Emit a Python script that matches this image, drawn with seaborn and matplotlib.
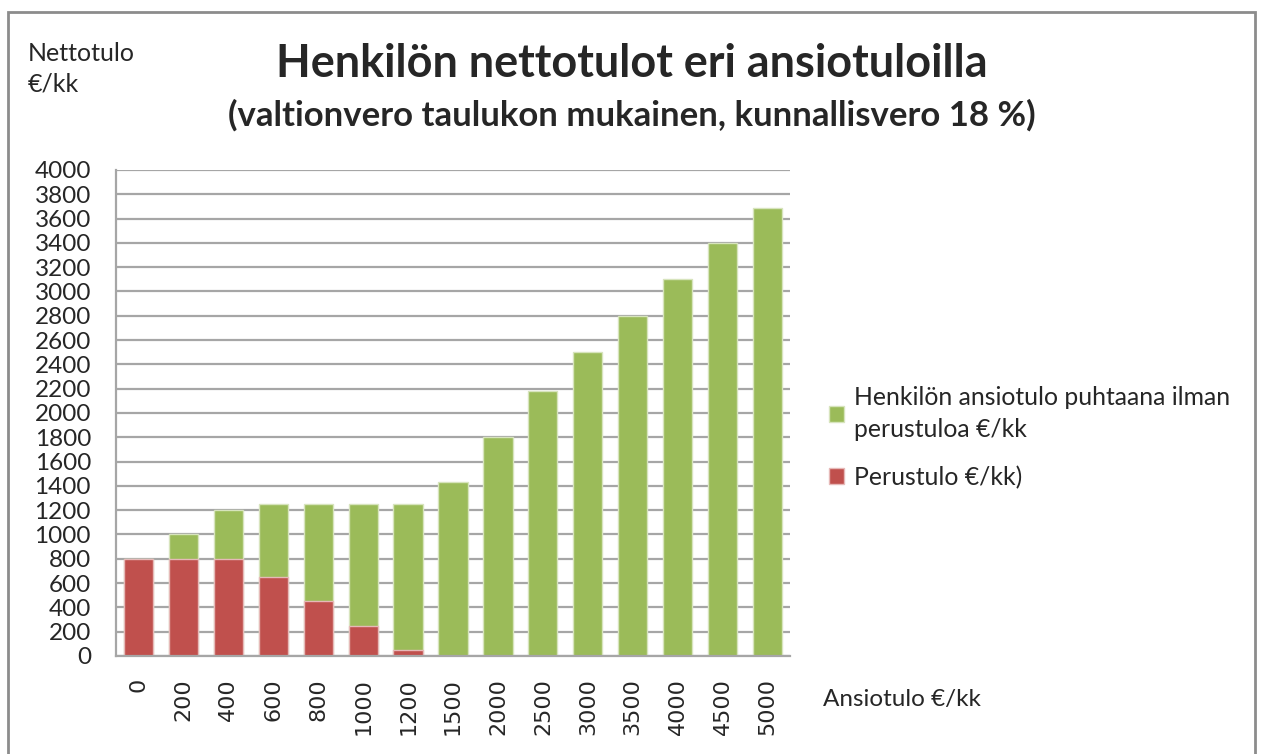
import matplotlib.pyplot as plt
import pandas as pd
import seaborn as sns
from matplotlib.patches import Rectangle

# data
ansiotulo = ["0", "200", "400", "600", "800", "1000", "1200", "1500",
             "2000", "2500", "3000", "3500", "4000", "4500", "5000"]
perustulo = [800, 800, 800, 650, 450, 250, 50, 0, 0, 0, 0, 0, 0, 0, 0]
ansio_puhtaana = [0, 200, 400, 600, 800, 1000, 1200, 1430,
                  1800, 2180, 2500, 2800, 3100, 3400, 3690]
y_ticks = list(range(0, 4001, 200))

df = pd.DataFrame({"ansiotulo": ansiotulo,
                   "perustulo": perustulo,
                   "ansio": ansio_puhtaana})
df["yhteensa"] = df["perustulo"] + df["ansio"]

sns.set_style("white")
plt.rcParams["font.family"] = ["Lato", "DejaVu Sans"]

GREEN = "#9BBB59"
RED = "#C0504D"

fig = plt.figure(figsize=(12.61, 7.54), dpi=100)
ax = fig.add_axes([0.092, 0.13, 0.5345, 0.6446])

# pinottu pylväs: ensin kokonaiskorkeus vihreänä, sitten perustulo päälle
sns.barplot(data=df, x="ansiotulo", y="yhteensa", order=ansiotulo, color=GREEN,
            width=0.65, saturation=1, edgecolor="#D7E4BD", linewidth=1,
            label="Henkilön ansiotulo puhtaana ilman\nperustuloa €/kk", ax=ax)
sns.barplot(data=df, x="ansiotulo", y="perustulo", order=ansiotulo, color=RED,
            width=0.65, saturation=1, edgecolor="#E6B9B8", linewidth=1,
            label="Perustulo €/kk)", ax=ax)

ax.set_ylim(0, 4000)
ax.set_xlim(-0.5, len(ansiotulo) - 0.5)
ax.set_yticks(y_ticks)
ax.set_yticklabels([str(v) for v in y_ticks], fontsize=17.5)
ax.set_xticks(range(len(ansiotulo)))
ax.set_xticklabels(ansiotulo, rotation=90, fontsize=16, family="DejaVu Sans",
                   va="top", ha="center")
ax.tick_params(axis="both", length=0)
ax.tick_params(axis="y", pad=18)
ax.tick_params(axis="x", pad=16)
ax.set_xlabel("")
ax.set_ylabel("")
ax.yaxis.grid(True, color="#A6A6A6", linewidth=1.6)
ax.set_axisbelow(True)
for side in ["top", "right"]:
    ax.spines[side].set_visible(False)
for side in ["left", "bottom"]:
    ax.spines[side].set_color("#A6A6A6")
    ax.spines[side].set_linewidth(1.6)

leg = ax.legend(loc="center left", bbox_to_anchor=(1.025, 0.45), frameon=False,
                fontsize=17.8, handlelength=0.6, handleheight=0.6,
                handletextpad=0.4, labelspacing=1.0)
for t in leg.get_texts():
    t.set_linespacing(1.5)

fig.text(0.501, 0.915, "Henkilön nettotulot eri ansiotuloilla",
         ha="center", va="center", fontsize=32.4, fontweight="bold")
fig.text(0.501, 0.847, "(valtionvero taulukon mukainen, kunnallisvero 18 %)",
         ha="center", va="center", fontsize=25, fontweight="bold")
fig.text(0.022, 0.944, "Nettotulo\n€/kk", ha="left", va="top", fontsize=18,
         linespacing=1.4)
fig.text(0.653, 0.072, "Ansiotulo €/kk", ha="left", va="center", fontsize=17.5)

# kehys koko kuvan ympärille
fig.patches.append(Rectangle((0.0065, -0.02), 0.9885, 1.004, transform=fig.transFigure,
                             fill=False, edgecolor="#8C8C8C", linewidth=2))

fig.savefig("out.png", dpi=100)
